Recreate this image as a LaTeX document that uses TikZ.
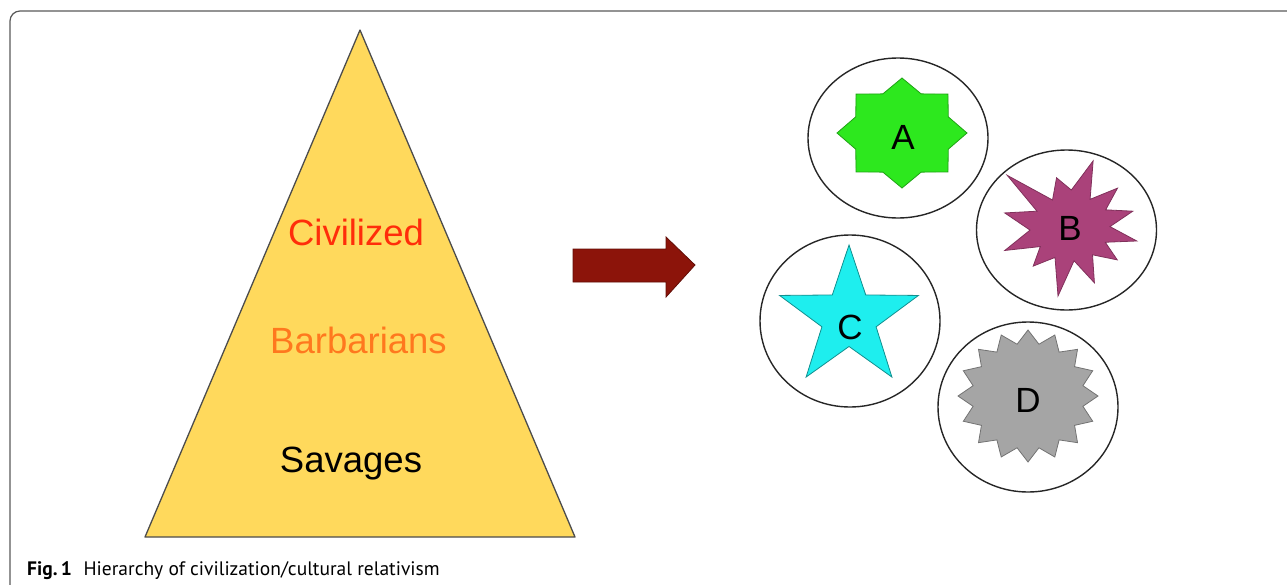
\documentclass[tikz,border=0pt]{standalone}
\usepackage{fontspec}
\setmainfont{Liberation Sans}
\newfontfamily\capfont{PT Sans}
\usetikzlibrary{shapes.geometric}
\definecolor{tri}{RGB}{255,217,92}
\definecolor{civ}{RGB}{255,45,10}
\definecolor{barb}{RGB}{255,120,30}
\definecolor{arr}{RGB}{140,20,10}
\definecolor{sa}{RGB}{45,232,30}
\definecolor{sb}{RGB}{170,66,122}
\definecolor{sc}{RGB}{30,238,238}
\definecolor{sd}{RGB}{165,165,165}
\begin{document}
\begin{tikzpicture}[x=1pt,y=-1pt,
  lvl/.style={font=\fontsize{36.5}{40}\selectfont, anchor=base, inner sep=0},
  ring/.style={ellipse, draw=black!85, line width=1.4pt, minimum width=180pt, inner sep=0},
  letter/.style={font=\fontsize{35}{38}\selectfont, inner sep=0},
  starline/.style={line width=0.8pt, line join=miter}
]
\useasboundingbox (0,0) rectangle (1287,584);
\clip (0,0) rectangle (1287,584);
% frame
\draw[black!65, line width=1.2pt, rounded corners=10pt] (10,11) rectangle (1300,620);
% triangle
\coordinate (apex) at (360,30);
\coordinate (bl) at (145,537);
\coordinate (br) at (575,537);
\draw[fill=tri, draw=black!70, line width=1.3pt, line join=round] (apex) -- (br) -- (bl) -- cycle;
\node[lvl, text=civ] (civ) at (356,245) {Civilized};
\node[lvl, text=barb] (barb) at (358.5,353) {Barbarians};
\node[lvl, text=black] (sav) at (351,472) {Savages};
% arrow
\draw[fill=arr, draw=arr!70!black, line width=0.8pt, line join=miter]
  (573,249) -- (666,249) -- (666,237) -- (695,265) -- (666,297) -- (666,282) -- (573,282) -- cycle;
% rings
\node[ring, minimum height=160pt] (ra) at (898,138) {};
\node[ring, minimum height=160pt] (rb) at (1066.5,230) {};
\node[ring, minimum height=172pt] (rc) at (850,321) {};
\node[ring, minimum height=170pt] (rd) at (1028,407) {};
% star A
\begin{scope}[shift={(902,133)}, yscale=-1]
\fill[sa, draw=sa!70!black, starline] (0:65 and 55)
  \foreach \i in {1,...,15} { -- ({\i*22.5}:{(mod(\i,2)==0 ? 65 : 0.77*65)} and {(mod(\i,2)==0 ? 55 : 0.77*55)}) } -- cycle;
\end{scope}
% star B
\begin{scope}[shift={(1070,228)}, yscale=-1]
\fill[sb, draw=sb!75!black, starline]
  (71:71) -- (55:35) -- (40:62) -- (27:40) -- (15:65) -- (2:40) -- (-11:68) -- (-22:38)
  -- (-34:57) -- (-50:35) -- (-66:60) -- (-83:33) -- (-100:69) -- (-117:33) -- (-134:53)
  -- (-148:35) -- (-161:69) -- (-177:40) -- (167:67) -- (153:37) -- (140:82) -- (122:33)
  -- (105:52) -- (88:38) -- cycle;
\end{scope}
% star C
\begin{scope}[shift={(849,318)}, yscale=-1]
\fill[sc, draw=sc!60!black, starline] (90:73)
  \foreach \i in {1,...,9} { -- ({90+\i*36}:{(mod(\i,2)==0 ? 73 : 0.39*73)}) } -- cycle;
\end{scope}
% star D
\begin{scope}[shift={(1028,396)}, yscale=-1]
\fill[sd, draw=sd!70!black, starline] (90:70 and 66)
  \foreach \i in {1,...,31} { -- ({90+\i*11.25}:{(mod(\i,2)==0 ? 70 : 0.8*70)} and {(mod(\i,2)==0 ? 66 : 0.8*66)}) } -- cycle;
\end{scope}
% letters
\node[letter] (la) at (903,137) {A};
\node[letter] (lb) at (1070,228) {B};
\node[letter] (lc) at (850,327) {C};
\node[letter] (ld) at (1028,400) {D};
% caption
\node[anchor=base west, inner sep=0, font=\capfont\fontsize{19.5}{22}\selectfont] (cap) at (27,575)
  {\textbf{Fig.\,1}\hspace{0.6em}Hierarchy of civilization/cultural relativism};
\end{tikzpicture}
\end{document}
